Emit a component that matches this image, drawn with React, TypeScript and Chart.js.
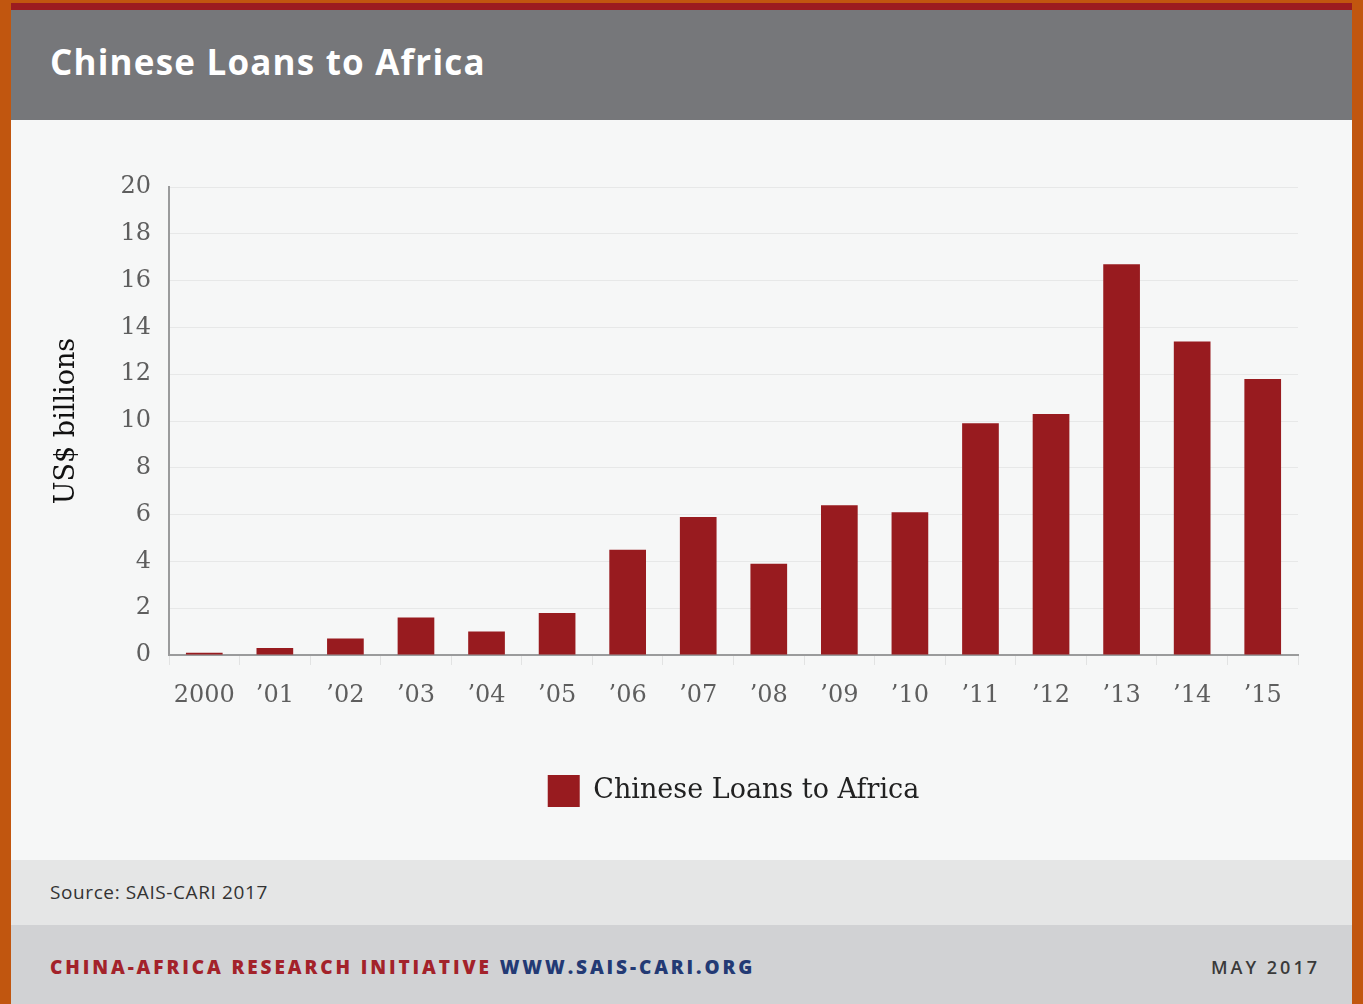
import React, { useEffect, useRef } from "react";
import { Chart, registerables } from "chart.js";

Chart.register(...registerables);

const categories = ["2000", "’01", "’02", "’03", "’04", "’05", "’06", "’07", "’08", "’09", "’10", "’11", "’12", "’13", "’14", "’15"];
const loans = [0.1, 0.3, 0.7, 1.6, 1.0, 1.8, 4.5, 5.9, 3.9, 6.4, 6.1, 9.9, 10.3, 16.7, 13.4, 11.8];
const seriesName = "Chinese Loans to Africa";
const yMin = 0;
const yMax = 20;
const yStep = 2;

const legendCenterPlugin = {
  id: "legendCenter",
  afterLayout(chart: any) {
    const lg = chart.legend;
    if (!lg) return;
    const ca = chart.chartArea;
    lg.left = ca.left;
    lg.right = ca.right;
    lg.width = ca.right - ca.left;
  },
};

function LoansChart() {
  const ref = useRef<HTMLCanvasElement | null>(null);
  useEffect(() => {
    if (!ref.current) return;
    const chart = new Chart(ref.current, {
      type: "bar",
      data: {
        labels: categories,
        datasets: [
          {
            label: seriesName,
            data: loans,
            backgroundColor: "#981b1f",
            borderWidth: 0,
            categoryPercentage: 1,
            barPercentage: 0.52,
          },
        ],
      },
      plugins: [legendCenterPlugin],
      options: {
        responsive: false,
        animation: false,
        layout: { padding: { left: 30, right: 54, top: 67, bottom: 43 } },
        plugins: {
          tooltip: { enabled: false },
          legend: {
            display: true,
            position: "bottom",
            labels: {
              boxWidth: 32,
              boxHeight: 32,
              padding: 10,
              color: "#222",
              font: { family: "'DejaVu Serif', serif", size: 27 },
            },
          },
        },
        scales: {
          x: {
            offset: true,
            afterFit: (s: any) => {
              s.height = 110;
            },
            grid: {
              display: true,
              drawOnChartArea: false,
              drawTicks: true,
              tickLength: 10,
              color: "#e2e3e3",
              lineWidth: 1,
            },
            border: { display: true, color: "#9a9b9c", width: 2 },
            ticks: {
              color: "#5e5e5e",
              padding: 16,
              maxRotation: 0,
              autoSkip: false,
              font: { family: "'DejaVu Serif', serif", size: 24 },
            },
          },
          y: {
            min: yMin,
            max: yMax,
            afterFit: (s: any) => {
              s.width = 128;
            },
            grid: {
              display: true,
              drawTicks: false,
              color: "#e7e8e8",
              lineWidth: 1,
            },
            border: { display: true, color: "#9a9b9c", width: 2 },
            ticks: {
              stepSize: yStep,
              color: "#5e5e5e",
              padding: 18,
              font: { family: "'DejaVu Serif', serif", size: 24 },
            },
            title: {
              display: true,
              text: "US$ billions",
              color: "#111",
              padding: { top: 10, bottom: 0 },
              font: { family: "'DejaVu Serif', serif", size: 27 },
            },
          },
        },
      },
    });
    return () => chart.destroy();
  }, []);
  return <canvas ref={ref} width={1341} height={740} style={{ display: "block", width: 1341, height: 740 }} />;
}

export default function App() {
  return (
    <div
      style={{
        position: "absolute",
        left: 0,
        top: 0,
        width: 1363,
        height: 1004,
        background: "#c1560f",
        overflow: "hidden",
      }}
    >
      <div style={{ position: "absolute", left: 11, top: 3, width: 1341, height: 7, background: "#9b1c20" }} />
      <div style={{ position: "absolute", left: 11, top: 10, width: 1341, height: 110, background: "#76777a" }}>
        <div
          style={{
            position: "absolute",
            left: 39,
            top: 31,
            fontFamily: "'Open Sans', sans-serif",
            fontWeight: 700,
            fontSize: 35,
            letterSpacing: 1.2,
            color: "#ffffff",
            lineHeight: "42px",
            whiteSpace: "nowrap",
          }}
        >
          Chinese Loans to Africa
        </div>
      </div>
      <div style={{ position: "absolute", left: 11, top: 120, width: 1341, height: 740, background: "#f6f7f7" }}>
        <LoansChart />
      </div>
      <div style={{ position: "absolute", left: 11, top: 860, width: 1341, height: 65, background: "#e5e6e6" }}>
        <div
          style={{
            position: "absolute",
            left: 39,
            top: 20,
            fontFamily: "'Open Sans', sans-serif",
            fontSize: 19,
            letterSpacing: 0.6,
            color: "#333",
            lineHeight: "24px",
            whiteSpace: "nowrap",
          }}
        >
          Source: SAIS-CARI 2017
        </div>
      </div>
      <div style={{ position: "absolute", left: 11, top: 925, width: 1341, height: 79, background: "#d1d2d4" }}>
        <div
          style={{
            position: "absolute",
            left: 39,
            top: 30,
            fontFamily: "'Open Sans', sans-serif",
            fontWeight: 800,
            fontSize: 19,
            letterSpacing: 2.9,
            lineHeight: "24px",
            whiteSpace: "nowrap",
          }}
        >
          <span style={{ color: "#a3222a" }}>CHINA-AFRICA RESEARCH INITIATIVE</span>{" "}
          <span style={{ color: "#233a74" }}>WWW.SAIS-CARI.ORG</span>
        </div>
        <div
          style={{
            position: "absolute",
            right: 32,
            top: 30,
            fontFamily: "'Open Sans', sans-serif",
            fontWeight: 600,
            fontSize: 18,
            letterSpacing: 3,
            color: "#3a3a3a",
            lineHeight: "24px",
            whiteSpace: "nowrap",
          }}
        >
          MAY 2017
        </div>
      </div>
    </div>
  );
}
